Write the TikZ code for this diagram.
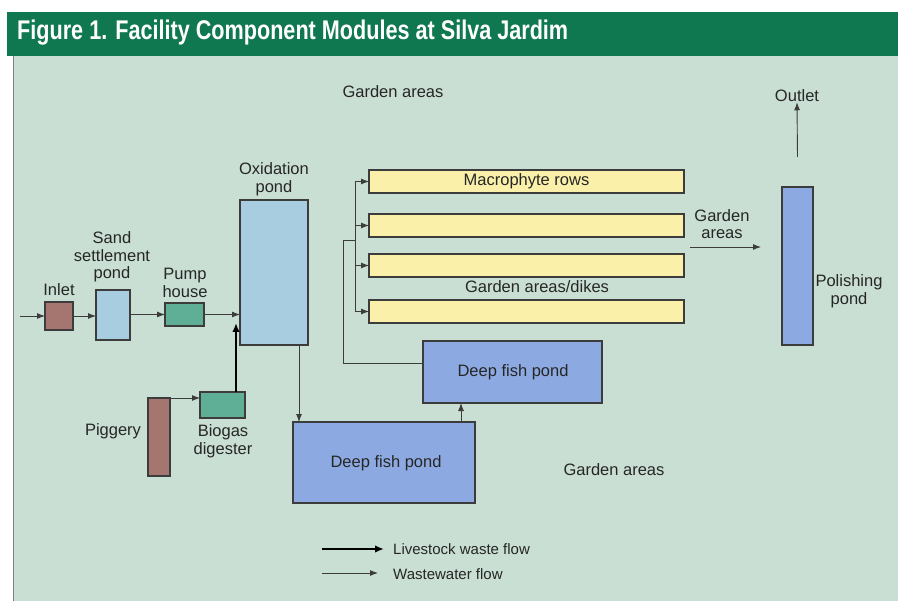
\documentclass[tikz,border=0pt]{standalone}
\usepackage{fontspec}
\setmainfont{Liberation Sans}
\usetikzlibrary{arrows.meta,calc}
\definecolor{bgpanel}{HTML}{C9DFD3}
\definecolor{hdr}{HTML}{107850}
\definecolor{mauve}{HTML}{A57670}
\definecolor{lblue}{HTML}{A8CDE1}
\definecolor{teal}{HTML}{5FAF96}
\definecolor{pblue}{HTML}{8CAAE1}
\definecolor{rowyel}{HTML}{FAF0AA}
\definecolor{txt}{HTML}{262626}
\definecolor{edge}{HTML}{3C3C3C}
\begin{document}
\begin{tikzpicture}[x=1pt,y=-1pt,
  box/.style={draw=edge,line width=1.1pt,inner sep=0pt,outer sep=0pt,anchor=north west},
  lbl/.style={text=txt,font=\fontsize{16.5}{17.5}\selectfont,align=center,inner sep=0pt},
  flow/.style={draw=edge,line width=0.9pt,-{Latex[length=8pt,width=6pt]}},
  waste/.style={draw=black,line width=2.2pt,-{Latex[length=9pt,width=7.5pt]}},
  plain/.style={draw=edge,line width=0.9pt}]
\useasboundingbox (0,0) rectangle (898,604);
\fill[white] (0,0) rectangle (898,604);
% panel and header
\fill[bgpanel] (13,54) rectangle (898,601);
\draw[gray,line width=1pt] (13,54) -- (13,601);
\fill[hdr] (7,12) rectangle (898,56);
\node[anchor=west,text=white,inner sep=0pt] (title) at (17,33)
  {\resizebox{551pt}{\height}{\fontsize{27}{27}\selectfont\bfseries Figure 1. Facility Component Modules at Silva Jardim}};
% modules
\node[box,fill=mauve,minimum width=28pt,minimum height=28pt] (inlet) at (45,302) {};
\node[box,fill=lblue,minimum width=34pt,minimum height=50pt] (sand) at (96,290) {};
\node[box,fill=teal,minimum width=39pt,minimum height=23pt] (pump) at (165,303) {};
\node[box,fill=lblue,minimum width=68pt,minimum height=145pt] (ox) at (240,200) {};
\node[box,fill=mauve,minimum width=22pt,minimum height=78pt] (pig) at (148,398) {};
\node[box,fill=teal,minimum width=45pt,minimum height=26pt] (bio) at (200,392) {};
\node[box,fill=pblue,minimum width=182pt,minimum height=81pt] (low) at (293,422) {};
\node[box,fill=pblue,minimum width=179pt,minimum height=62pt] (up) at (423,341) {};
\node[box,fill=rowyel,minimum width=315pt,minimum height=23pt] (r1) at (369,170) {};
\node[box,fill=rowyel,minimum width=315pt,minimum height=23pt] (r2) at (369,214) {};
\node[box,fill=rowyel,minimum width=315pt,minimum height=23pt] (r3) at (369,254) {};
\node[box,fill=rowyel,minimum width=315pt,minimum height=23pt] (r4) at (369,300) {};
\node[box,fill=pblue,minimum width=31pt,minimum height=158pt] (pol) at (782,187) {};
% labels
\node[lbl] (linlet) at (59,290) {Inlet};
\node[lbl] (lsand) at (112,257) {Sand\\settlement\\pond};
\node[lbl] (lpump) at (185,283) {Pump\\house};
\node[lbl] (lox) at (274,179) {Oxidation\\pond};
\node[lbl] (lpig) at (113,431) {Piggery};
\node[lbl] (lbio) at (223,441) {Biogas\\digester};
\node[lbl] at (r1.center) {Macrophyte rows};
\node[lbl] (ldikes) at (537,287) {Garden areas/dikes};
\node[lbl] at (513,372) {Deep fish pond};
\node[lbl] at (386,463) {Deep fish pond};
\node[lbl] (gtop) at (393,92) {Garden areas};
\node[lbl] (gbot) at (614,470) {Garden areas};
\node[lbl] (gright) at (722,224) {Garden\\areas};
\node[lbl] (lpol) at (849,291) {Polishing\\pond};
\node[lbl] (outlet) at (797,96) {Outlet};
% connectors
\coordinate (in0) at (20,316);
\draw[flow] (in0) -- (inlet.west);
\draw[flow] (inlet.east) -- (inlet.east -| sand.west);
\draw[flow] (sand.east |- pump.west) -- (pump.west);
\draw[flow] (pump.east) -- (pump.east -| ox.west);
\draw[flow] (pig.north east) -- (pig.north east -| bio.west);
\coordinate (bo) at ($(bio.north east)+(-9,0)$);
\draw[waste] (bo) -- ++(0,-69);
\coordinate (oxo) at ($(ox.south east)+(-9,0)$);
\draw[flow] (oxo) -- (oxo |- low.north);
\coordinate (lo) at ($(low.north east)+(-14,0)$);
\draw[flow] (lo) -- (lo |- up.south);
\coordinate (uw) at ($(up.west)+(0,-9)$);
\coordinate (tl) at (343,240);
\coordinate (tr) at (355,240);
\draw[plain] (uw) -| (tl) -- (tr);
\draw[plain] (tr |- r1.west) -- (tr |- r4.west);
\foreach \r in {r1,r2,r3,r4}{\draw[flow] (tr |- \r.west) -- (\r.west);}
\coordinate (ga0) at (690,247);
\coordinate (ga1) at (761,247);
\draw[flow] (ga0) -- (ga1);
\coordinate (po) at ($(pol.north)+(0,-30)$);
\draw[flow] (po) -- (outlet.south);
% legend
\node[lbl,anchor=west,font=\fontsize{15}{16}\selectfont] (leg1) at (393,549) {Livestock waste flow};
\node[lbl,anchor=west,font=\fontsize{15}{16}\selectfont] (leg2) at (393,574) {Wastewater flow};
\coordinate (l1) at (322,549);
\coordinate (l2) at (322,573);
\draw[waste,line width=1.8pt] (l1) -- ($(leg1.west)+(-9,0)$);
\draw[flow] (l2) -- ($(leg2.west)+(-15,-1)$);
\end{tikzpicture}
\end{document}
